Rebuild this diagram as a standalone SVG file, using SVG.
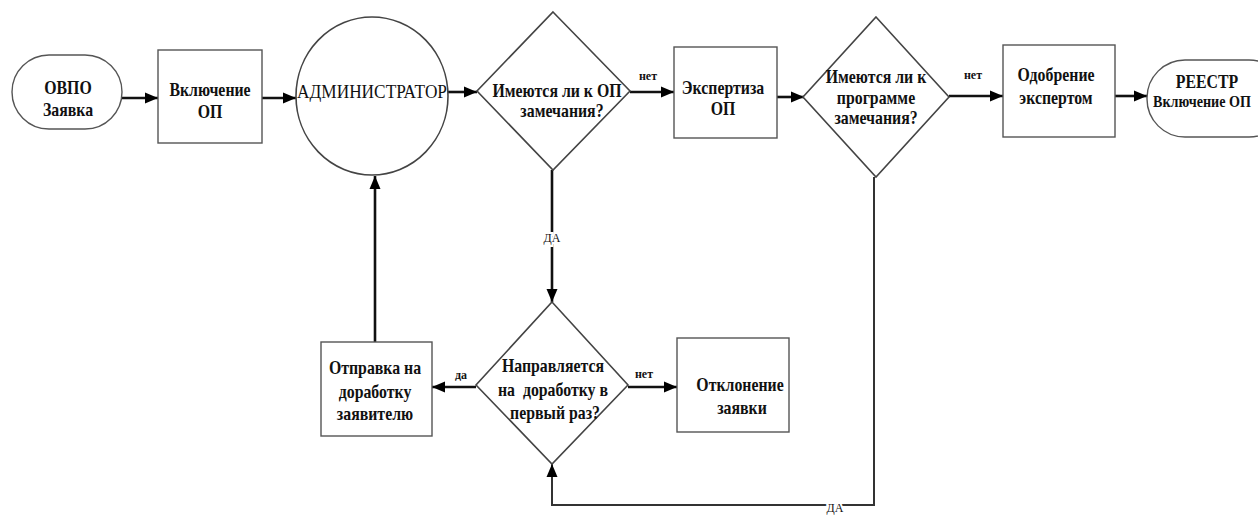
<svg xmlns="http://www.w3.org/2000/svg" width="1258" height="517" viewBox="0 0 1258 517">
<style>
.shape{fill:#fff;stroke:#555;stroke-width:1.4}
.circ{fill:#fff;stroke:#444;stroke-width:1.6}
.t{font-family:'Liberation Serif','DejaVu Serif','Times New Roman',serif;font-weight:bold;font-size:18px;fill:#111;text-anchor:middle;transform-box:fill-box;transform-origin:center;transform:scaleX(0.88)}
.tn{font-family:'Liberation Serif','DejaVu Serif','Times New Roman',serif;font-weight:bold;font-size:17px;fill:#111;text-anchor:middle}
.tr{font-family:'Liberation Serif','DejaVu Serif','Times New Roman',serif;font-size:18px;fill:#111;text-anchor:middle}
.lbl{font-family:'Liberation Serif','DejaVu Serif','Times New Roman',serif;font-size:12px;fill:#111;text-anchor:middle}
.lblb{font-family:'Liberation Serif','DejaVu Serif','Times New Roman',serif;font-weight:bold;font-size:12px;fill:#111;text-anchor:middle}
.c{fill:none;stroke:#111;stroke-width:2.6}
.cthin{fill:none;stroke:#333;stroke-width:2}
.bg{paint-order:stroke;stroke:#fff;stroke-width:4}
</style>
<defs>
<marker id="ah" markerUnits="userSpaceOnUse" markerWidth="13" markerHeight="13" viewBox="0 0 13 13" refX="13" refY="6.5" orient="auto">
<path d="M0,1 L13,6.5 L0,12 z" fill="#000"/>
</marker>
</defs>
<rect width="1258" height="517" fill="#fff"/>

<g id="connectors">
<line class="c" x1="122" y1="98" x2="158" y2="98" marker-end="url(#ah)"/>
<line class="c" x1="262" y1="98" x2="296" y2="98" marker-end="url(#ah)"/>
<line class="c" x1="448" y1="92" x2="477" y2="92" marker-end="url(#ah)"/>
<line class="c" x1="630" y1="92" x2="674" y2="92" marker-end="url(#ah)"/>
<text class="lblb" x="648" y="80">нет</text>
<line class="c" x1="777" y1="97" x2="804" y2="97" marker-end="url(#ah)"/>
<line class="c" x1="949" y1="96" x2="1003" y2="96" marker-end="url(#ah)"/>
<text class="lblb" x="973" y="79">нет</text>
<line class="c" x1="1115" y1="96" x2="1147" y2="96" marker-end="url(#ah)"/>
<line class="c" x1="552" y1="170" x2="552" y2="302" marker-end="url(#ah)"/>
<text class="lbl bg" x="552" y="242">ДА</text>
<line class="c" x1="476" y1="387" x2="432" y2="387" marker-end="url(#ah)"/>
<text class="lblb" x="461" y="379">да</text>
<line class="c" x1="628" y1="387" x2="677" y2="387" marker-end="url(#ah)"/>
<text class="lblb" x="644" y="378">нет</text>
<line class="c" x1="375" y1="342" x2="375" y2="176" marker-end="url(#ah)"/>
<polyline class="cthin" points="874,177 874,505 552,505 552,464" marker-end="url(#ah)"/>
<text class="lbl bg" x="835" y="512">ДА</text>
</g>

<g id="n_ovpo">
<rect class="shape" x="12" y="55" width="110" height="74" rx="37" ry="37"/>
<text class="t" x="68" y="94">ОВПО</text>
<text class="t" x="68" y="116">Заявка</text>
</g>

<g id="n_vkl">
<rect class="shape" x="158" y="50" width="104" height="93"/>
<text class="t" x="210" y="96">Включение</text>
<text class="t" x="210" y="118">ОП</text>
</g>

<g id="n_admin">
<ellipse class="circ" cx="372" cy="96" rx="76" ry="79"/>
<text class="tr" x="372" y="98" textLength="150" lengthAdjust="spacingAndGlyphs">АДМИНИСТРАТОР</text>
</g>

<g id="n_d1">
<polygon class="circ" points="553,12 630,91 553,170 477,91"/>
<text class="t" x="557" y="97">Имеются ли к ОП</text>
<text class="t" x="562" y="117">замечания?</text>
</g>

<g id="n_exp">
<rect class="shape" x="674" y="47" width="103" height="91"/>
<text class="t" x="723" y="94">Экспертиза</text>
<text class="t" x="723" y="115">ОП</text>
</g>

<g id="n_d2">
<polygon class="circ" points="876,17 949,97 876,177 803,97"/>
<text class="t" x="876" y="83">Имеются ли к</text>
<text class="t" x="876" y="104">программе</text>
<text class="t" x="876" y="124">замечания?</text>
</g>

<g id="n_odob">
<rect class="shape" x="1003" y="45" width="112" height="92"/>
<text class="t" x="1056" y="81">Одобрение</text>
<text class="t" x="1056" y="104">экспертом</text>
</g>

<g id="n_reestr">
<rect class="shape" x="1147" y="60" width="140" height="77" rx="38" ry="38"/>
<text class="t" x="1207" y="88">РЕЕСТР</text>
<text class="tn" x="1202" y="107" textLength="98" lengthAdjust="spacingAndGlyphs">Включение ОП</text>
</g>

<g id="n_d3">
<polygon class="circ" points="552,302 628,385 552,464 476,385"/>
<text class="t" x="553" y="372">Направляется</text>
<text class="t" x="553" y="396" xml:space="preserve">на  доработку в</text>
<text class="t" x="555" y="419">первый раз?</text>
</g>

<g id="n_otpr">
<rect class="shape" x="321" y="342" width="111" height="94"/>
<text class="t" x="375" y="374">Отправка на</text>
<text class="t" x="375" y="398">доработку</text>
<text class="t" x="375" y="420">заявителю</text>
</g>

<g id="n_otkl">
<rect class="shape" x="677" y="338" width="112" height="94"/>
<text class="t" x="740" y="391">Отклонение</text>
<text class="t" x="742" y="414">заявки</text>
</g>
</svg>
